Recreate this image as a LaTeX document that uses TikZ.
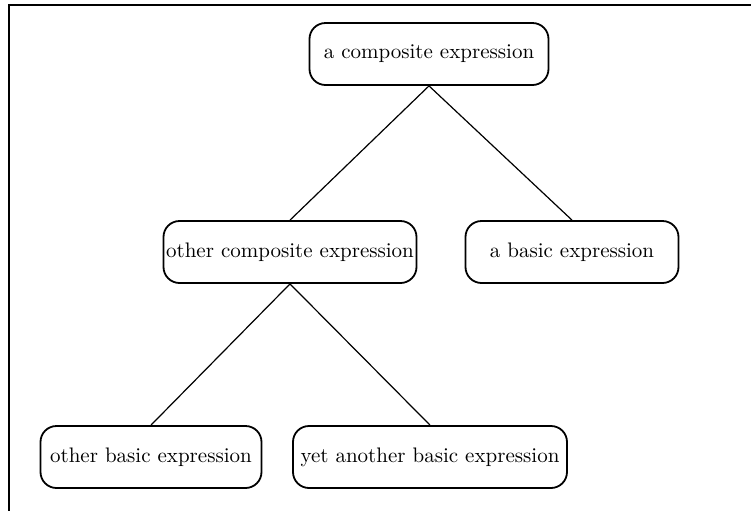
\documentclass[tikz,border=0pt]{standalone}
\usepackage{fontspec}
\begin{document}
\begin{tikzpicture}[x=0.5pt,y=-0.5pt,
  box/.style={draw,line width=0.9pt,rounded corners=8pt,minimum height=31pt,inner sep=0pt,font=\fontsize{10.5}{12}\selectfont},
  link/.style={line width=0.6pt},
  frame/.style={line width=1.1pt}]
\useasboundingbox (0,0) rectangle (751,510);
\coordinate (fbl) at (9,511);
\coordinate (ftl) at (9,5);
\coordinate (ftr) at (752,5);
\draw[frame] (fbl) -- (ftl) -- (ftr);
\node[box,minimum width=119.5pt] (top) at (429,54) {a composite expression};
\node[box,minimum width=126.5pt] (oc) at (290,252) {other composite expression};
\node[box,minimum width=106.5pt] (ab) at (572,252) {a basic expression};
\node[box,minimum width=110.5pt] (ob) at (151,457) {other basic expression};
\node[box,minimum width=137pt] (ya) at (430,457) {yet another basic expression};
\draw[link] (top.south) -- (oc.north);
\draw[link] (top.south) -- (ab.north);
\draw[link] (oc.south) -- (ob.north);
\draw[link] (oc.south) -- (ya.north);
\end{tikzpicture}
\end{document}
